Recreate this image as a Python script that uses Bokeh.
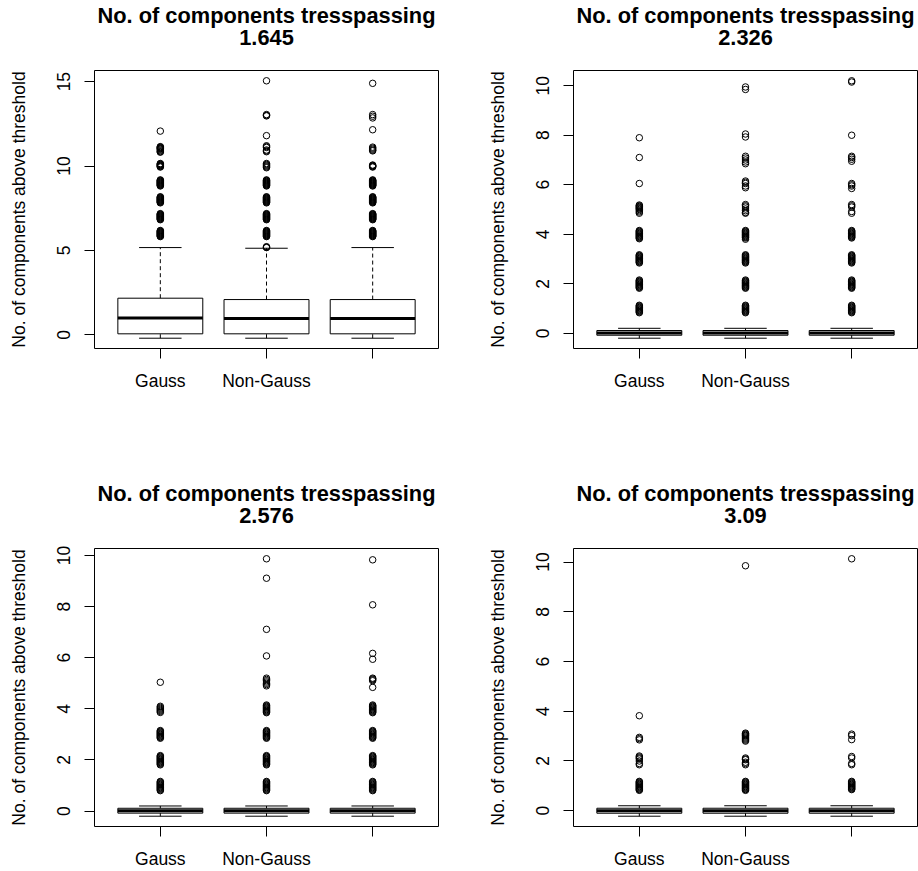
from bokeh.plotting import figure
from bokeh.layouts import column, row
from bokeh.models import Range1d, FixedTicker, Title, ColumnDataSource
from bokeh.embed import file_html
from bokeh.resources import INLINE

FONT = "Liberation Sans"

# ---------------- data ----------------
thresholds = ["1.645", "2.326", "2.576", "3.09"]
title_text = "No. of components tresspassing"
y_label = "No. of components above threshold"
groups = ["Gauss", "Non-Gauss", ""]
positions = [1, 2, 3]

# box statistics per panel: lower whisker, Q1, median, Q3, upper whisker (per group)
lo_1645 = [-0.2, -0.2, -0.2]
q1_1645 = [0.06, 0.06, 0.06]
med_1645 = [1.0, 0.97, 0.97]
q3_1645 = [2.17, 2.09, 2.09]
hi_1645 = [5.17, 5.13, 5.17]

lo_2326 = [-0.2, -0.2, -0.2]
q1_2326 = [-0.08, -0.08, -0.08]
med_2326 = [0.01, 0.01, 0.01]
q3_2326 = [0.11, 0.11, 0.11]
hi_2326 = [0.2, 0.2, 0.2]

lo_2576 = [-0.2, -0.2, -0.2]
q1_2576 = [-0.08, -0.08, -0.08]
med_2576 = [0.01, 0.01, 0.01]
q3_2576 = [0.11, 0.11, 0.11]
hi_2576 = [0.2, 0.2, 0.2]

lo_309 = [-0.22, -0.22, -0.22]
q1_309 = [-0.1, -0.1, -0.1]
med_309 = [0.0, 0.0, 0.0]
q3_309 = [0.1, 0.1, 0.1]
hi_309 = [0.2, 0.2, 0.2]

# outliers per panel and group (jittered counts)
out_1645_gauss = [12.07, 11.15, 11.12, 11.09, 11.06, 11.03, 11.0, 10.95, 10.9, 10.85, 10.82,
                  10.15, 10.12, 10.09, 10.06, 10.03, 10.0, 9.97, 9.94,
                  9.18, 9.15, 9.12, 9.09, 9.06, 9.03, 9.0, 8.97, 8.94, 8.91, 8.88, 8.85, 8.82,
                  8.18, 8.15, 8.12, 8.09, 8.06, 8.03, 8.0, 7.97, 7.94, 7.91, 7.88, 7.85, 7.82,
                  7.18, 7.15, 7.12, 7.09, 7.06, 7.03, 7.0, 6.97, 6.94, 6.91, 6.88, 6.85, 6.82,
                  6.18, 6.15, 6.12, 6.09, 6.06, 6.03, 6.0, 5.97, 5.94, 5.91, 5.88, 5.85, 5.82]
out_1645_non = [15.05, 13.05, 13.0, 12.97, 11.8, 11.2, 11.15, 11.1, 10.95, 10.9, 10.85,
                10.15, 10.1, 10.05, 10.0, 9.95, 9.9,
                9.18, 9.15, 9.12, 9.09, 9.06, 9.03, 9.0, 8.97, 8.94, 8.91, 8.88, 8.85, 8.82,
                8.18, 8.15, 8.12, 8.09, 8.06, 8.03, 8.0, 7.97, 7.94, 7.91, 7.88, 7.85, 7.82,
                7.18, 7.15, 7.12, 7.09, 7.06, 7.03, 7.0, 6.97, 6.94, 6.91, 6.88, 6.85, 6.82,
                6.18, 6.15, 6.12, 6.09, 6.06, 6.03, 6.0, 5.97, 5.94, 5.91, 5.88, 5.85, 5.82,
                5.22, 5.19, 5.17]
out_1645_third = [14.9, 13.05, 12.95, 12.85, 12.15, 11.12, 11.06, 11.0, 10.94, 10.9,
                  10.06, 10.03, 10.0, 9.97, 9.94,
                  9.18, 9.15, 9.12, 9.09, 9.06, 9.03, 9.0, 8.97, 8.94, 8.91, 8.88, 8.85, 8.82,
                  8.18, 8.15, 8.12, 8.09, 8.06, 8.03, 8.0, 7.97, 7.94, 7.91, 7.88, 7.85, 7.82,
                  7.18, 7.15, 7.12, 7.09, 7.06, 7.03, 7.0, 6.97, 6.94, 6.91, 6.88, 6.85, 6.82,
                  6.18, 6.15, 6.12, 6.09, 6.06, 6.03, 6.0, 5.97, 5.94, 5.91, 5.88, 5.85, 5.82]

out_2326_gauss = [7.9, 7.1, 6.05, 5.18, 5.15, 5.12, 5.09, 5.06, 5.03, 5.0, 4.95, 4.9, 4.85,
                  4.15, 4.12, 4.09, 4.06, 4.03, 4.0, 3.97, 3.94, 3.91, 3.88, 3.85, 3.82,
                  3.17, 3.14, 3.11, 3.08, 3.05, 3.02, 2.99, 2.96, 2.93, 2.9, 2.87, 2.84,
                  2.15, 2.12, 2.09, 2.06, 2.03, 2.0, 1.97, 1.94, 1.91, 1.88, 1.85, 1.82,
                  1.13, 1.1, 1.07, 1.04, 1.01, 0.98, 0.95, 0.92, 0.89, 0.86, 0.83]
out_2326_non = [9.95, 9.85, 8.05, 7.93, 7.15, 7.08, 7.0, 6.92, 6.85,
                6.15, 6.1, 6.05, 5.95, 5.88,
                5.2, 5.15, 5.1, 5.02, 4.95, 4.88, 4.85,
                4.15, 4.12, 4.09, 4.06, 4.03, 4.0, 3.97, 3.94, 3.91, 3.88, 3.85, 3.8,
                3.17, 3.14, 3.11, 3.08, 3.05, 3.02, 2.99, 2.96, 2.93, 2.9, 2.87, 2.84,
                2.15, 2.12, 2.09, 2.06, 2.03, 2.0, 1.97, 1.94, 1.91, 1.88, 1.85, 1.82,
                1.13, 1.1, 1.07, 1.04, 1.01, 0.98, 0.95, 0.92, 0.89, 0.86, 0.83]
out_2326_third = [10.2, 10.15, 8.0, 7.15, 7.1, 7.03, 6.95, 6.05, 6.0, 5.95, 5.85,
                  5.2, 5.15, 5.1, 4.92, 4.85,
                  4.15, 4.12, 4.09, 4.06, 4.03, 4.0, 3.97, 3.94, 3.91, 3.88, 3.85,
                  3.17, 3.14, 3.11, 3.08, 3.05, 3.02, 2.99, 2.96, 2.93, 2.9, 2.87, 2.84,
                  2.15, 2.12, 2.09, 2.06, 2.03, 2.0, 1.97, 1.94, 1.91, 1.88, 1.85, 1.82,
                  1.13, 1.1, 1.07, 1.04, 1.01, 0.98, 0.95, 0.92, 0.89, 0.86, 0.83]

out_2576_gauss = [5.04, 4.1, 4.06, 4.02, 3.98, 3.94, 3.9, 3.86,
                  3.15, 3.12, 3.09, 3.06, 3.03, 3.0, 2.97, 2.94, 2.91, 2.88, 2.85,
                  2.17, 2.14, 2.11, 2.08, 2.05, 2.02, 1.99, 1.96, 1.93, 1.9, 1.87, 1.84, 1.81,
                  1.16, 1.13, 1.1, 1.07, 1.04, 1.01, 0.98, 0.95, 0.92, 0.89, 0.86, 0.83, 0.8]
out_2576_non = [9.87, 9.11, 7.11, 6.07, 5.2, 5.15, 5.1, 5.05, 5.0, 4.95, 4.9,
                4.15, 4.12, 4.09, 4.06, 4.03, 4.0, 3.97, 3.94, 3.91, 3.88, 3.85,
                3.15, 3.12, 3.09, 3.06, 3.03, 3.0, 2.97, 2.94, 2.91, 2.88, 2.85,
                2.17, 2.14, 2.11, 2.08, 2.05, 2.02, 1.99, 1.96, 1.93, 1.9, 1.87, 1.84, 1.81,
                1.16, 1.13, 1.1, 1.07, 1.04, 1.01, 0.98, 0.95, 0.92, 0.89, 0.86, 0.83, 0.8]
out_2576_third = [9.83, 8.07, 6.17, 5.94, 5.2, 5.17, 5.14, 5.1, 4.84,
                  4.15, 4.12, 4.09, 4.06, 4.03, 4.0, 3.97, 3.94, 3.91, 3.88, 3.85,
                  3.15, 3.12, 3.09, 3.06, 3.03, 3.0, 2.97, 2.94, 2.91, 2.88, 2.85,
                  2.17, 2.14, 2.11, 2.08, 2.05, 2.02, 1.99, 1.96, 1.93, 1.9, 1.87, 1.84, 1.81,
                  1.16, 1.13, 1.1, 1.07, 1.04, 1.01, 0.98, 0.95, 0.92, 0.89, 0.86, 0.83, 0.8]

out_309_gauss = [3.82, 2.95, 2.9, 2.85, 2.2, 2.16, 2.12, 2.08, 2.0, 1.9, 1.85,
                 1.18, 1.15, 1.12, 1.09, 1.06, 1.03, 1.0, 0.97, 0.94, 0.91, 0.88, 0.85, 0.82]
out_309_non = [9.85, 3.12, 3.09, 3.06, 3.03, 3.0, 2.96, 2.92, 2.88, 2.84, 2.8,
               2.12, 2.08, 2.05, 1.95, 1.9, 1.85,
               1.18, 1.15, 1.12, 1.09, 1.06, 1.03, 1.0, 0.97, 0.94, 0.91, 0.88, 0.85, 0.82]
out_309_third = [10.13, 3.08, 3.02, 2.86, 2.18, 2.12, 1.9, 1.85,
                 1.18, 1.15, 1.12, 1.09, 1.06, 1.03, 1.0, 0.97, 0.94, 0.91, 0.88, 0.85]

yticks_1645 = [0, 5, 10, 15]
yticks_other = [0, 2, 4, 6, 8, 10]

# --------------- drawing ---------------
BOX_W = 0.8
STAPLE_W = 0.4
TICK_PX = "17.5px"
TITLE_PX = "21.8px"


def add_titles(p, thr):
    kw = dict(text_font=FONT, text_font_size=TITLE_PX, text_font_style="bold",
              text_color="black", align="center")
    # blank spacer between the frame and the two title lines
    p.add_layout(Title(text=" ", standoff=-1, **kw), "above")
    p.add_layout(Title(text=thr, standoff=0, **kw), "above")
    p.add_layout(Title(text=title_text, standoff=0, **kw), "above")


def make_panel(thr, lo, q1, med, q3, hi, outs, yticks, left, right, top, bottom):
    allv = lo + hi + [v for o in outs for v in o]
    ymin, ymax = min(allv), max(allv)
    pad = 0.04 * (ymax - ymin)
    p = figure(frame_width=344, frame_height=278, title=None,
               x_range=Range1d(0.38, 3.62), y_range=Range1d(ymin - pad, ymax + pad),
               output_backend="svg", toolbar_location=None,
               min_border_left=left, min_border_right=right,
               min_border_top=top, min_border_bottom=bottom)
    p.background_fill_color = "white"
    p.border_fill_color = "white"
    p.outline_line_color = "black"
    p.outline_line_width = 1
    p.outline_line_alpha = 1.0
    p.grid.visible = False

    src = ColumnDataSource(dict(
        x=positions, lo=lo, q1=q1, med=med, q3=q3, hi=hi,
        bl=[x - BOX_W / 2 for x in positions], br=[x + BOX_W / 2 for x in positions],
        sl=[x - STAPLE_W / 2 for x in positions], sr=[x + STAPLE_W / 2 for x in positions],
    ))
    p.segment(x0="x", y0="q3", x1="x", y1="hi", source=src, line_color="black",
              line_width=1, line_dash="4 3")
    p.segment(x0="x", y0="lo", x1="x", y1="q1", source=src, line_color="black",
              line_width=1, line_dash="4 3")
    p.segment(x0="sl", y0="hi", x1="sr", y1="hi", source=src, line_color="black", line_width=1)
    p.segment(x0="sl", y0="lo", x1="sr", y1="lo", source=src, line_color="black", line_width=1)
    p.quad(left="bl", right="br", bottom="q1", top="q3", source=src,
           fill_color=None, line_color="black", line_width=1)
    p.segment(x0="bl", y0="med", x1="br", y1="med", source=src, line_color="black", line_width=3)
    for x, o in zip(positions, outs):
        p.scatter(x=[x] * len(o), y=o, marker="circle", size=6.5, fill_color=None,
                  line_color="black", line_width=1)

    p.xaxis.ticker = FixedTicker(ticks=positions)
    p.xaxis.major_label_overrides = {pos: g for pos, g in zip(positions, groups)}
    p.yaxis.ticker = FixedTicker(ticks=yticks)
    for ax in (p.xaxis, p.yaxis):
        ax.axis_line_color = None
        ax.major_tick_in = 0
        ax.major_tick_out = 10
        ax.major_tick_line_color = "black"
        ax.minor_tick_line_color = None
        ax.major_label_text_font = FONT
        ax.major_label_text_font_size = TICK_PX
        ax.major_label_text_color = "black"
        ax.major_label_standoff = 12
    p.yaxis.major_label_orientation = "parallel"
    p.yaxis.major_label_standoff = 14
    p.yaxis.axis_label = y_label
    p.yaxis.axis_label_text_font = FONT
    p.yaxis.axis_label_text_font_size = TICK_PX
    p.yaxis.axis_label_text_font_style = "normal"
    p.yaxis.axis_label_text_color = "black"
    p.yaxis.axis_label_standoff = 26

    add_titles(p, thr)
    return p


p1 = make_panel(thresholds[0], lo_1645, q1_1645, med_1645, q3_1645, hi_1645,
                [out_1645_gauss, out_1645_non, out_1645_third], yticks_1645, 94, 40, 70, 130)
p2 = make_panel(thresholds[1], lo_2326, q1_2326, med_2326, q3_2326, hi_2326,
                [out_2326_gauss, out_2326_non, out_2326_third], yticks_other, 95, 1, 70, 130)
p3 = make_panel(thresholds[2], lo_2576, q1_2576, med_2576, q3_2576, hi_2576,
                [out_2576_gauss, out_2576_non, out_2576_third], yticks_other, 94, 40, 70, 45)
p4 = make_panel(thresholds[3], lo_309, q1_309, med_309, q3_309, hi_309,
                [out_309_gauss, out_309_non, out_309_third], yticks_other, 95, 1, 70, 45)

layout = column(row(p1, p2), row(p3, p4))

with open("out.html", "w") as f:
    f.write(file_html(layout, INLINE))
